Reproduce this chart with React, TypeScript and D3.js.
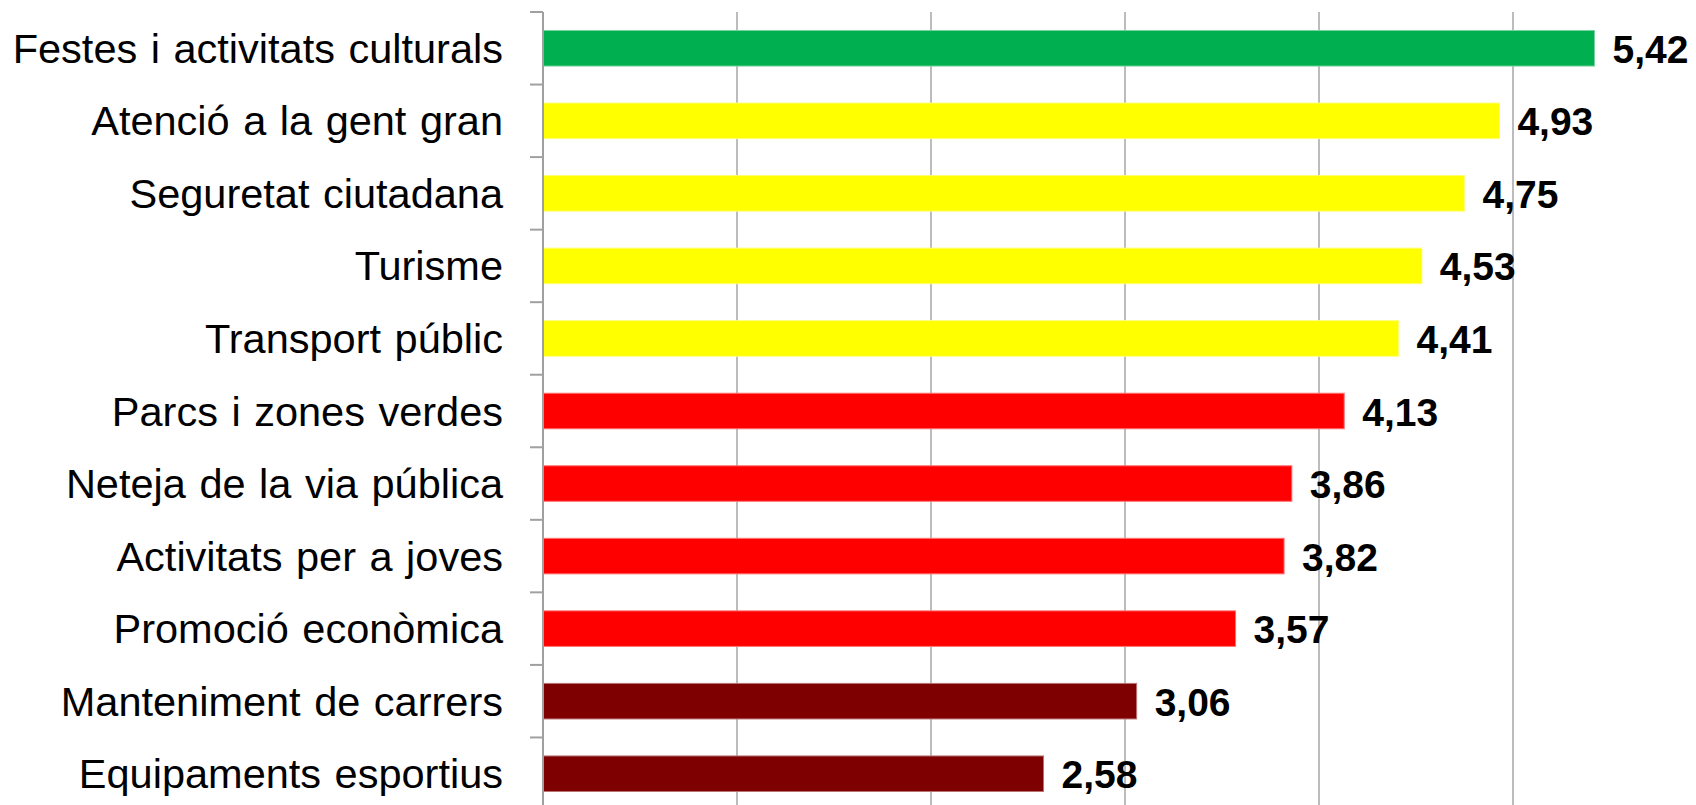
import React from "react";
import * as d3 from "d3";

const categories = [
  "Festes i activitats culturals",
  "Atenció a la gent gran",
  "Seguretat ciutadana",
  "Turisme",
  "Transport públic",
  "Parcs i zones verdes",
  "Neteja de la via pública",
  "Activitats per a joves",
  "Promoció econòmica",
  "Manteniment de carrers",
  "Equipaments esportius",
];
const values = [5.42, 4.93, 4.75, 4.53, 4.41, 4.13, 3.86, 3.82, 3.57, 3.06, 2.58];
const barColors = [
  "#00B050", "#FFFF00", "#FFFF00", "#FFFF00", "#FFFF00",
  "#FF0000", "#FF0000", "#FF0000", "#FF0000", "#7F0000", "#7F0000",
];
const gridTicks = [1, 2, 3, 4, 5];

const W = 1696;
const H = 805;
const plotLeft = 543;
const plotTop = 12;
const plotBottom = 810;

export default function App() {
  const x = d3.scaleLinear().domain([0, 6]).range([plotLeft, plotLeft + 6 * 194]);
  const y = d3
    .scaleBand<string>()
    .domain(categories)
    .range([plotTop, plotBottom])
    .paddingInner(0.51)
    .paddingOuter(0.255);
  const step = y.step();
  const bounds = d3.range(categories.length + 1).map((i) => plotTop + i * step);
  const fmt = (v: number) => v.toFixed(2).replace(".", ",");
  const font = "'Liberation Sans', Arial, sans-serif";

  return (
    <div style={{ position: "absolute", left: 0, top: 0 }}>
      <svg width={W} height={H} style={{ display: "block", background: "#fff" }}>
        {gridTicks.map((t) => (
          <line key={t} x1={x(t)} x2={x(t)} y1={plotTop} y2={plotBottom} stroke="#A6A6A6" strokeWidth={1.5} />
        ))}
        {categories.map((c, i) => (
          <rect
            key={c}
            x={x(0)}
            y={y(c)}
            width={x(values[i]) - x(0)}
            height={y.bandwidth()}
            fill={barColors[i]}
            stroke={d3.interpolateRgb(barColors[i], "#ffffff")(0.45)}
            strokeWidth={1}
          />
        ))}
        <line x1={plotLeft} x2={plotLeft} y1={plotTop} y2={plotBottom} stroke="#A0A0A0" strokeWidth={2} />
        {bounds.map((b, i) => (
          <line key={i} x1={plotLeft - 13} x2={plotLeft} y1={b} y2={b} stroke="#A0A0A0" strokeWidth={2} />
        ))}
        {categories.map((c) => (
          <text
            key={c}
            x={503}
            y={(y(c) as number) + y.bandwidth() / 2}
            textAnchor="end"
            dominantBaseline="central"
            fontFamily={font}
            fontSize={41.5}
            wordSpacing={2}
            fill="#000"
          >
            {c}
          </text>
        ))}
        {categories.map((c, i) => (
          <text
            key={c}
            x={x(values[i]) + 18}
            y={(y(c) as number) + y.bandwidth() / 2 + 1}
            dominantBaseline="central"
            fontFamily={font}
            fontWeight="bold"
            fontSize={39}
            fill="#000"
          >
            {fmt(values[i])}
          </text>
        ))}
      </svg>
    </div>
  );
}
